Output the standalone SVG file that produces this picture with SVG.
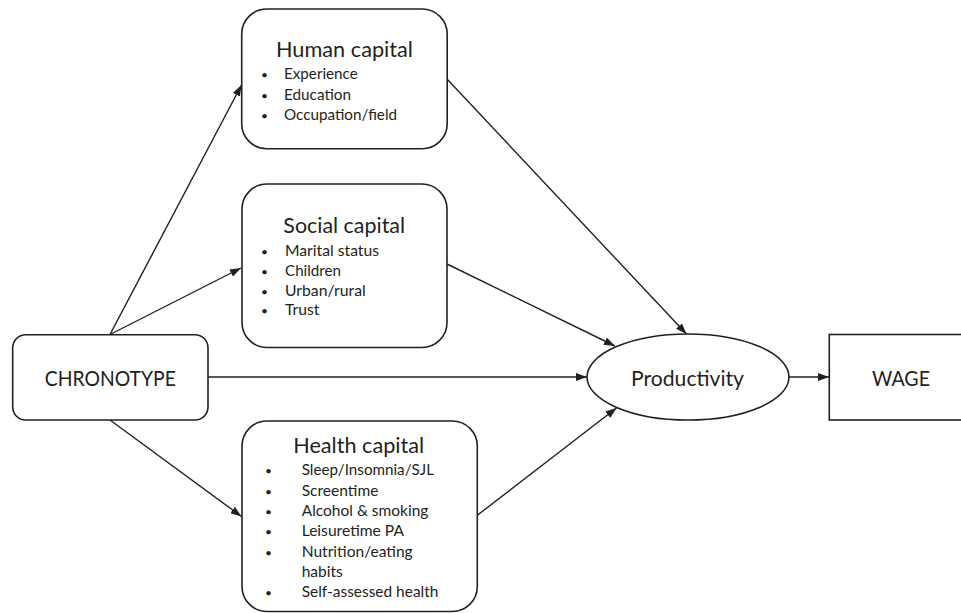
<svg xmlns="http://www.w3.org/2000/svg" width="961" height="613" viewBox="0 0 961 613">
  <defs>
    <marker id="arrow" markerUnits="userSpaceOnUse" markerWidth="11" markerHeight="8" refX="11" refY="4" orient="auto">
      <path d="M0,0 L11,4 L0,8 z" fill="#231f20"/>
    </marker>
    <style>
      .box { fill: #ffffff; stroke: #231f20; stroke-width: 1.6; }
      .conn { stroke: #231f20; stroke-width: 1.4; fill: none; marker-end: url(#arrow); }
      text { font-family: Lato, "Open Sans", "Liberation Sans", sans-serif; fill: #231f20; }
      .title { font-size: 22px; text-anchor: middle; }
      .item { font-size: 15px; }
      .bullet { font-size: 12px; }
    </style>
  </defs>
  <rect width="961" height="613" fill="#ffffff"/>

  <!-- connectors -->
  <g id="connectors">
    <line class="conn" x1="110" y1="334.5" x2="241.5" y2="85"/>
    <line class="conn" x1="110" y1="334.5" x2="241" y2="268"/>
    <line class="conn" x1="110" y1="420" x2="241.5" y2="516.5"/>
    <line class="conn" x1="208" y1="377" x2="587" y2="377"/>
    <line class="conn" x1="447" y1="79" x2="686.5" y2="334"/>
    <line class="conn" x1="447" y1="264" x2="615" y2="346"/>
    <line class="conn" x1="477" y1="515.5" x2="616.5" y2="408"/>
    <line class="conn" x1="789" y1="377" x2="829" y2="377"/>
  </g>

  <!-- chronotype -->
  <g id="chronotype">
    <rect class="box" x="12.7" y="334.7" width="195.3" height="85.3" rx="13" ry="13"/>
    <text class="title" x="110.3" y="385.7" textLength="131" lengthAdjust="spacingAndGlyphs">CHRONOTYPE</text>
  </g>

  <!-- human capital -->
  <g id="human-capital">
    <rect class="box" x="241.7" y="9" width="205.5" height="139.7" rx="25" ry="25"/>
    <text class="title" x="344.5" y="57" textLength="137" lengthAdjust="spacingAndGlyphs">Human capital</text>
    <text class="bullet" x="261" y="79">•</text>
    <text class="item" x="284" y="79" textLength="73.7" lengthAdjust="spacingAndGlyphs">Experience</text>
    <text class="bullet" x="261" y="99.5">•</text>
    <text class="item" x="284" y="99.5" textLength="67" lengthAdjust="spacingAndGlyphs">Education</text>
    <text class="bullet" x="261" y="120">•</text>
    <text class="item" x="284" y="120" textLength="113" lengthAdjust="spacingAndGlyphs">Occupation/field</text>
  </g>

  <!-- social capital -->
  <g id="social-capital">
    <rect class="box" x="242" y="184" width="205" height="163.5" rx="25" ry="25"/>
    <text class="title" x="344.2" y="233" textLength="121.7" lengthAdjust="spacingAndGlyphs">Social capital</text>
    <text class="bullet" x="261" y="256">•</text>
    <text class="item" x="285" y="256" textLength="94" lengthAdjust="spacingAndGlyphs">Marital status</text>
    <text class="bullet" x="261" y="276">•</text>
    <text class="item" x="285" y="276" textLength="56" lengthAdjust="spacingAndGlyphs">Children</text>
    <text class="bullet" x="261" y="295.7">•</text>
    <text class="item" x="285" y="295.7" textLength="80.7" lengthAdjust="spacingAndGlyphs">Urban/rural</text>
    <text class="bullet" x="261" y="315">•</text>
    <text class="item" x="285" y="315" textLength="34.3" lengthAdjust="spacingAndGlyphs">Trust</text>
  </g>

  <!-- health capital -->
  <g id="health-capital">
    <rect class="box" x="242" y="421" width="235.3" height="190.5" rx="25" ry="25"/>
    <text class="title" x="358.7" y="453" textLength="131" lengthAdjust="spacingAndGlyphs">Health capital</text>
    <text class="bullet" x="265" y="475">•</text>
    <text class="item" x="301.7" y="475" textLength="132.3" lengthAdjust="spacingAndGlyphs">Sleep/Insomnia/SJL</text>
    <text class="bullet" x="265" y="496">•</text>
    <text class="item" x="301.7" y="496" textLength="76.7" lengthAdjust="spacingAndGlyphs">Screentime</text>
    <text class="bullet" x="265" y="515.7">•</text>
    <text class="item" x="301.7" y="515.7" textLength="126.7" lengthAdjust="spacingAndGlyphs">Alcohol &amp; smoking</text>
    <text class="bullet" x="265" y="535.7">•</text>
    <text class="item" x="301.7" y="535.7" textLength="102.3" lengthAdjust="spacingAndGlyphs">Leisuretime PA</text>
    <text class="bullet" x="265" y="556.7">•</text>
    <text class="item" x="301.7" y="556.7" textLength="111" lengthAdjust="spacingAndGlyphs">Nutrition/eating</text>
    <text class="item" x="301.7" y="576.7" textLength="41" lengthAdjust="spacingAndGlyphs">habits</text>
    <text class="bullet" x="265" y="596.7">•</text>
    <text class="item" x="301.7" y="596.7" textLength="136.7" lengthAdjust="spacingAndGlyphs">Self-assessed health</text>
  </g>

  <!-- productivity -->
  <g id="productivity">
    <ellipse class="box" cx="688" cy="377" rx="101" ry="43"/>
    <text class="title" x="687.5" y="386" textLength="113" lengthAdjust="spacingAndGlyphs">Productivity</text>
  </g>

  <!-- wage -->
  <g id="wage">
    <rect class="box" x="829.3" y="334.5" width="150" height="85.5"/>
    <text class="title" x="901" y="386" textLength="58" lengthAdjust="spacingAndGlyphs">WAGE</text>
  </g>
</svg>
